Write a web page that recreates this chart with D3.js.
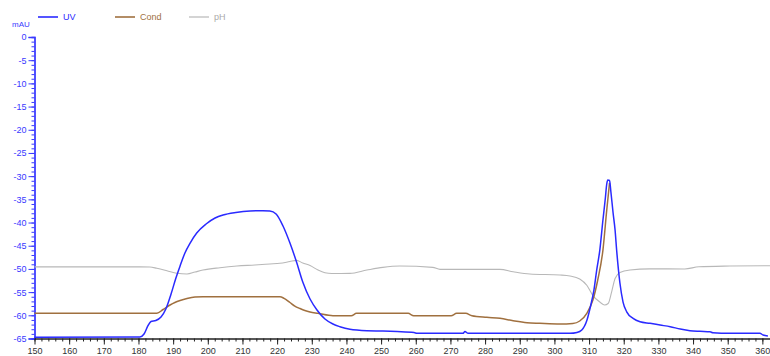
<!DOCTYPE html>
<html>
<head>
<meta charset="utf-8">
<script src="https://cdn.jsdelivr.net/npm/d3@7"></script>
<style>
  html, body { margin: 0; padding: 0; background: #fff; }
  svg { display: block; }
  text { font-family: "Liberation Sans", Arial, sans-serif; }
</style>
</head>
<body>
<svg id="chart" width="770" height="356"></svg>
<script>
// ---- Data (x in ml, y in mAU display units) ----
const uvData = [
  [150,-64.75],[180.4,-64.68],[181.6,-64.04],[182.7,-62.3],[183.6,-61.34],[185.0,-61.13],
  [186.5,-60.37],[187.9,-58.65],[189.4,-55.41],[190.8,-51.96],[192.0,-49.37],[193.4,-46.56],
  [194.9,-44.42],[196.8,-42.26],[199.5,-40.32],[202.1,-39.03],[204.4,-38.38],[208.1,-37.84],
  [212.2,-37.52],[215.9,-37.45],[217.9,-37.52],[219.7,-38.16],[221.7,-40.75],[223.7,-44.42],
  [225.6,-48.51],[227.4,-52.82],[229.5,-56.49],[231.5,-58.86],[233.8,-60.8],[236.1,-61.88],
  [238.1,-62.46],[241.0,-63.02],[245.9,-63.32],[250.5,-63.39],[254.6,-63.5],[259.5,-63.71],
  [260.4,-63.89],[273.6,-63.89],[274.2,-63.5],[275.1,-63.89],[304.5,-63.89],[306.5,-63.71],
  [307.9,-63.17],[309.4,-61.02],[310.5,-57.78],[311.4,-54.55],[312.2,-50.24],[313.1,-45.93],
  [314.0,-39.46],[314.7,-34.71],[315.1,-31.69],[315.4,-30.83],[315.9,-30.94],[316.3,-33.42],
  [316.9,-37.73],[317.5,-41.61],[318.0,-46.36],[318.9,-53.04],[319.8,-57.14],[320.9,-59.3],
  [322.7,-60.66],[324.7,-61.39],[327.6,-61.73],[330.5,-62.1],[333.4,-62.46],[336.3,-62.96],
  [339.1,-63.32],[342.0,-63.45],[344.9,-63.54],[345.7,-63.76],[350.6,-63.89],[359.3,-63.89],
  [360.2,-64.25],[361.6,-64.47]
];
const condData = [
  [150,-59.55],[185.3,-59.55],[187.1,-58.75],[189.1,-57.78],[190.5,-57.24],[192.0,-56.81],
  [194.0,-56.38],[196.3,-56.06],[198.6,-55.99],[220.8,-55.99],[222.0,-56.34],[223.7,-57.24],
  [225.1,-58.0],[226.6,-58.54],[228.0,-58.97],[229.5,-59.29],[231.8,-59.57],[236.1,-60.09],
  [241.4,-60.09],[242.9,-59.57],[257.8,-59.57],[259.4,-60.09],[270.2,-60.09],[271.8,-59.57],
  [274.4,-59.57],[276.2,-60.09],[280.5,-60.44],[284.3,-60.65],[288.1,-61.17],[292.1,-61.6],
  [295.8,-61.73],[301.6,-61.88],[305.3,-61.77],[307.3,-61.23],[309.4,-59.51],[311.1,-56.71],
  [312.5,-52.39],[314.0,-45.93],[315.1,-37.3],[315.9,-31.48]
];
const phData = [
  [150,-49.55],[180.4,-49.55],[183.3,-49.59],[185.3,-49.87],[188.2,-50.39],[191.1,-50.95],
  [194.0,-51.1],[196.3,-50.67],[198.6,-50.24],[203.5,-49.74],[208.4,-49.38],[213.6,-49.16],
  [217.9,-48.94],[220.8,-48.79],[223.7,-48.4],[225.6,-48.15],[227.4,-48.73],[229.5,-49.27],
  [231.8,-50.24],[233.8,-50.82],[235.8,-50.99],[241.0,-50.95],[245.9,-50.24],[250.5,-49.66],
  [255.4,-49.38],[264.9,-49.66],[267.0,-50.09],[284.3,-50.09],[288.1,-50.6],[292.9,-51.1],
  [301.6,-51.32],[304.5,-51.53],[307.3,-52.18],[309.4,-53.58],[311.1,-55.74],[313.1,-57.14],
  [314.5,-57.78],[315.5,-57.46],[316.5,-54.98],[317.5,-52.07],[318.9,-50.78],[321.8,-50.24],
  [327.5,-49.98],[337.6,-50.02],[341.7,-49.53],[350.6,-49.38],[362.2,-49.31]
];
const xMajorTicks = d3.range(150, 361, 10);
const xMinorTicks = d3.range(150, 362, 2);
const yMajorTicks = d3.range(0, -66, -5);
const yMinorTicks = d3.range(0, -66, -1);
const seriesNames = ["UV", "Cond", "pH"];
const seriesColors = ["#2a2aff", "#a0703f", "#b8b8b8"];

// ---- Scales ----
const svg = d3.select("#chart");
const x = d3.scaleLinear().domain([150, 362.2]).range([34.5, 770]);
const y = d3.scaleLinear().domain([-65, 0]).range([338.5, 37]);

// ---- Axes ----
const axisBlue = "#3a3aff";
const yMinor = svg.append("g").attr("transform", `translate(${x(150)},0)`)
  .call(d3.axisLeft(y).tickValues(yMinorTicks).tickSize(3).tickFormat(""));
const yMajor = svg.append("g").attr("transform", `translate(${x(150)},0)`)
  .call(d3.axisLeft(y).tickValues(yMajorTicks).tickSize(6).tickPadding(2).tickFormat(d => String(d)));
[yMinor, yMajor].forEach(g => {
  g.selectAll("path.domain").attr("stroke", axisBlue).attr("stroke-width", 1.3);
  g.selectAll(".tick line").attr("stroke", axisBlue);
  g.selectAll(".tick text").attr("fill", axisBlue).attr("font-size", 9)
    .attr("font-family", "Liberation Sans, Arial, sans-serif");
});

const xMinor = svg.append("g").attr("transform", `translate(0,${y(-65)})`)
  .call(d3.axisBottom(x).tickValues(xMinorTicks).tickSize(3).tickFormat("").tickSizeOuter(0));
const xMajor = svg.append("g").attr("transform", `translate(0,${y(-65)})`)
  .call(d3.axisBottom(x).tickValues(xMajorTicks).tickSize(6).tickPadding(3).tickSizeOuter(0));
[xMinor, xMajor].forEach(g => {
  g.selectAll("path.domain").attr("stroke", "#222").attr("stroke-width", 1.2);
  g.selectAll(".tick line").attr("stroke", "#222");
  g.selectAll(".tick text").attr("fill", "#333").attr("font-size", 9)
    .attr("font-family", "Liberation Sans, Arial, sans-serif");
});

// ---- Lines ----
const line = d3.line().x(d => x(d[0])).y(d => y(d[1])).curve(d3.curveMonotoneX);
const allSeries = [uvData, condData, phData];
const widths = [1.5, 1.5, 1.1];
// draw pH, then Cond, then UV on top
[2, 1, 0].forEach(i => {
  svg.append("path").datum(allSeries[i])
    .attr("fill", "none").attr("stroke", seriesColors[i])
    .attr("stroke-width", widths[i]).attr("stroke-linejoin", "round")
    .attr("d", line);
});

// ---- Unit + legend ----
svg.append("text").attr("x", 12).attr("y", 27).attr("font-size", 8)
  .attr("fill", axisBlue).text("mAU");
const legendX = [38, 115, 189];
seriesNames.forEach((name, i) => {
  const g = svg.append("g").attr("transform", `translate(${legendX[i]},17)`);
  g.append("line").attr("x1", 0).attr("x2", 20).attr("y1", 0).attr("y2", 0)
    .attr("stroke", seriesColors[i]).attr("stroke-width", i === 2 ? 1.2 : 1.6);
  g.append("text").attr("x", 25).attr("y", 3).attr("font-size", 9)
    .attr("fill", i === 2 ? "#aaaaaa" : seriesColors[i]).text(name);
});
</script>
</body>
</html>
